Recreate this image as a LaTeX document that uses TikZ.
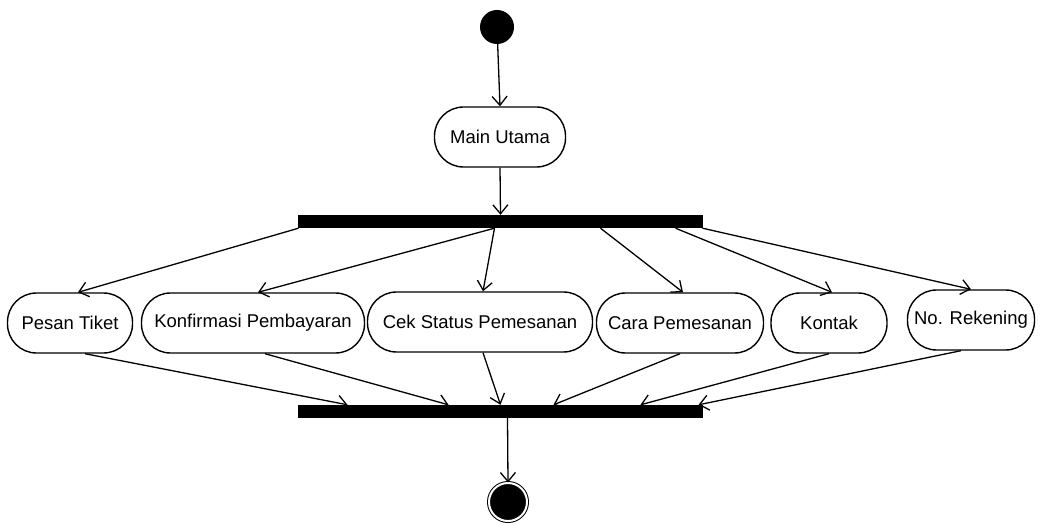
\documentclass[tikz,border=0pt]{standalone}
\usepackage{fontspec}
\setmainfont{Liberation Sans}
\usetikzlibrary{arrows.meta}
\tikzset{
  act/.style={draw,line width=1.4pt,rounded corners=29pt,minimum height=60pt,inner sep=0pt,font=\fontsize{18.5}{21}\selectfont},
  bar/.style={fill=black,minimum width=405pt,minimum height=13pt,inner sep=0pt},
  flow/.style={line width=1.3pt,-{Straight Barb[length=9pt,width=15pt,line width=1.3pt]}},
  initstate/.style={circle,fill=black,minimum size=34pt,inner sep=0pt},
  finalstate/.style={circle,draw,line width=1pt,double=white,double distance=2pt,fill=black,minimum size=38pt,inner sep=0pt}
}
\begin{document}
\begin{tikzpicture}[x=1pt,y=-1pt]
\useasboundingbox (0,0) rectangle (1043,526);
\node[initstate] (start) at (497,27) {};
\node[act,minimum width=131pt] (main) at (500,137) {Main Utama};
\node[bar] (fork) at (500.5,221.5) {};
\node[bar] (join) at (500.5,411.5) {};
\node[finalstate] (end) at (508,502) {};
\foreach \nm/\px/\py/\pw/\txt in {pesan/70/323/125/Pesan Tiket,konf/253/323/223/Konfirmasi Pembayaran,cek/480/322/225/Cek Status Pemesanan,cara/680/323/167/Cara Pemesanan,kontak/829/323/116/Kontak,norek/971/320/127/No. Rekening}{\node[act,minimum width=\pw pt] (\nm) at (\px,\py) {\txt};}
\draw[flow](start)--(main.north);
\draw[flow](main.south)--(fork.north);
% fork -> activities
\foreach \nm/\fx/\tx in {pesan/-202/8,konf/-6/5,cek/-6/3,cara/100/3,kontak/175/3,norek/202/0}{\draw[flow]([xshift=\fx pt]fork.south)--([xshift=\tx pt]\nm.north);}
% activities -> join
\foreach \nm/\sx/\jx in {pesan/15/-153,konf/12/-52,cek/3/0,cara/0/53,kontak/0/140,norek/-10/198}{\draw[flow]([xshift=\sx pt]\nm.south)--([xshift=\jx pt]join.north);}
\draw[flow]([xshift=7pt]join.south)--(end.north);
\end{tikzpicture}
\end{document}
